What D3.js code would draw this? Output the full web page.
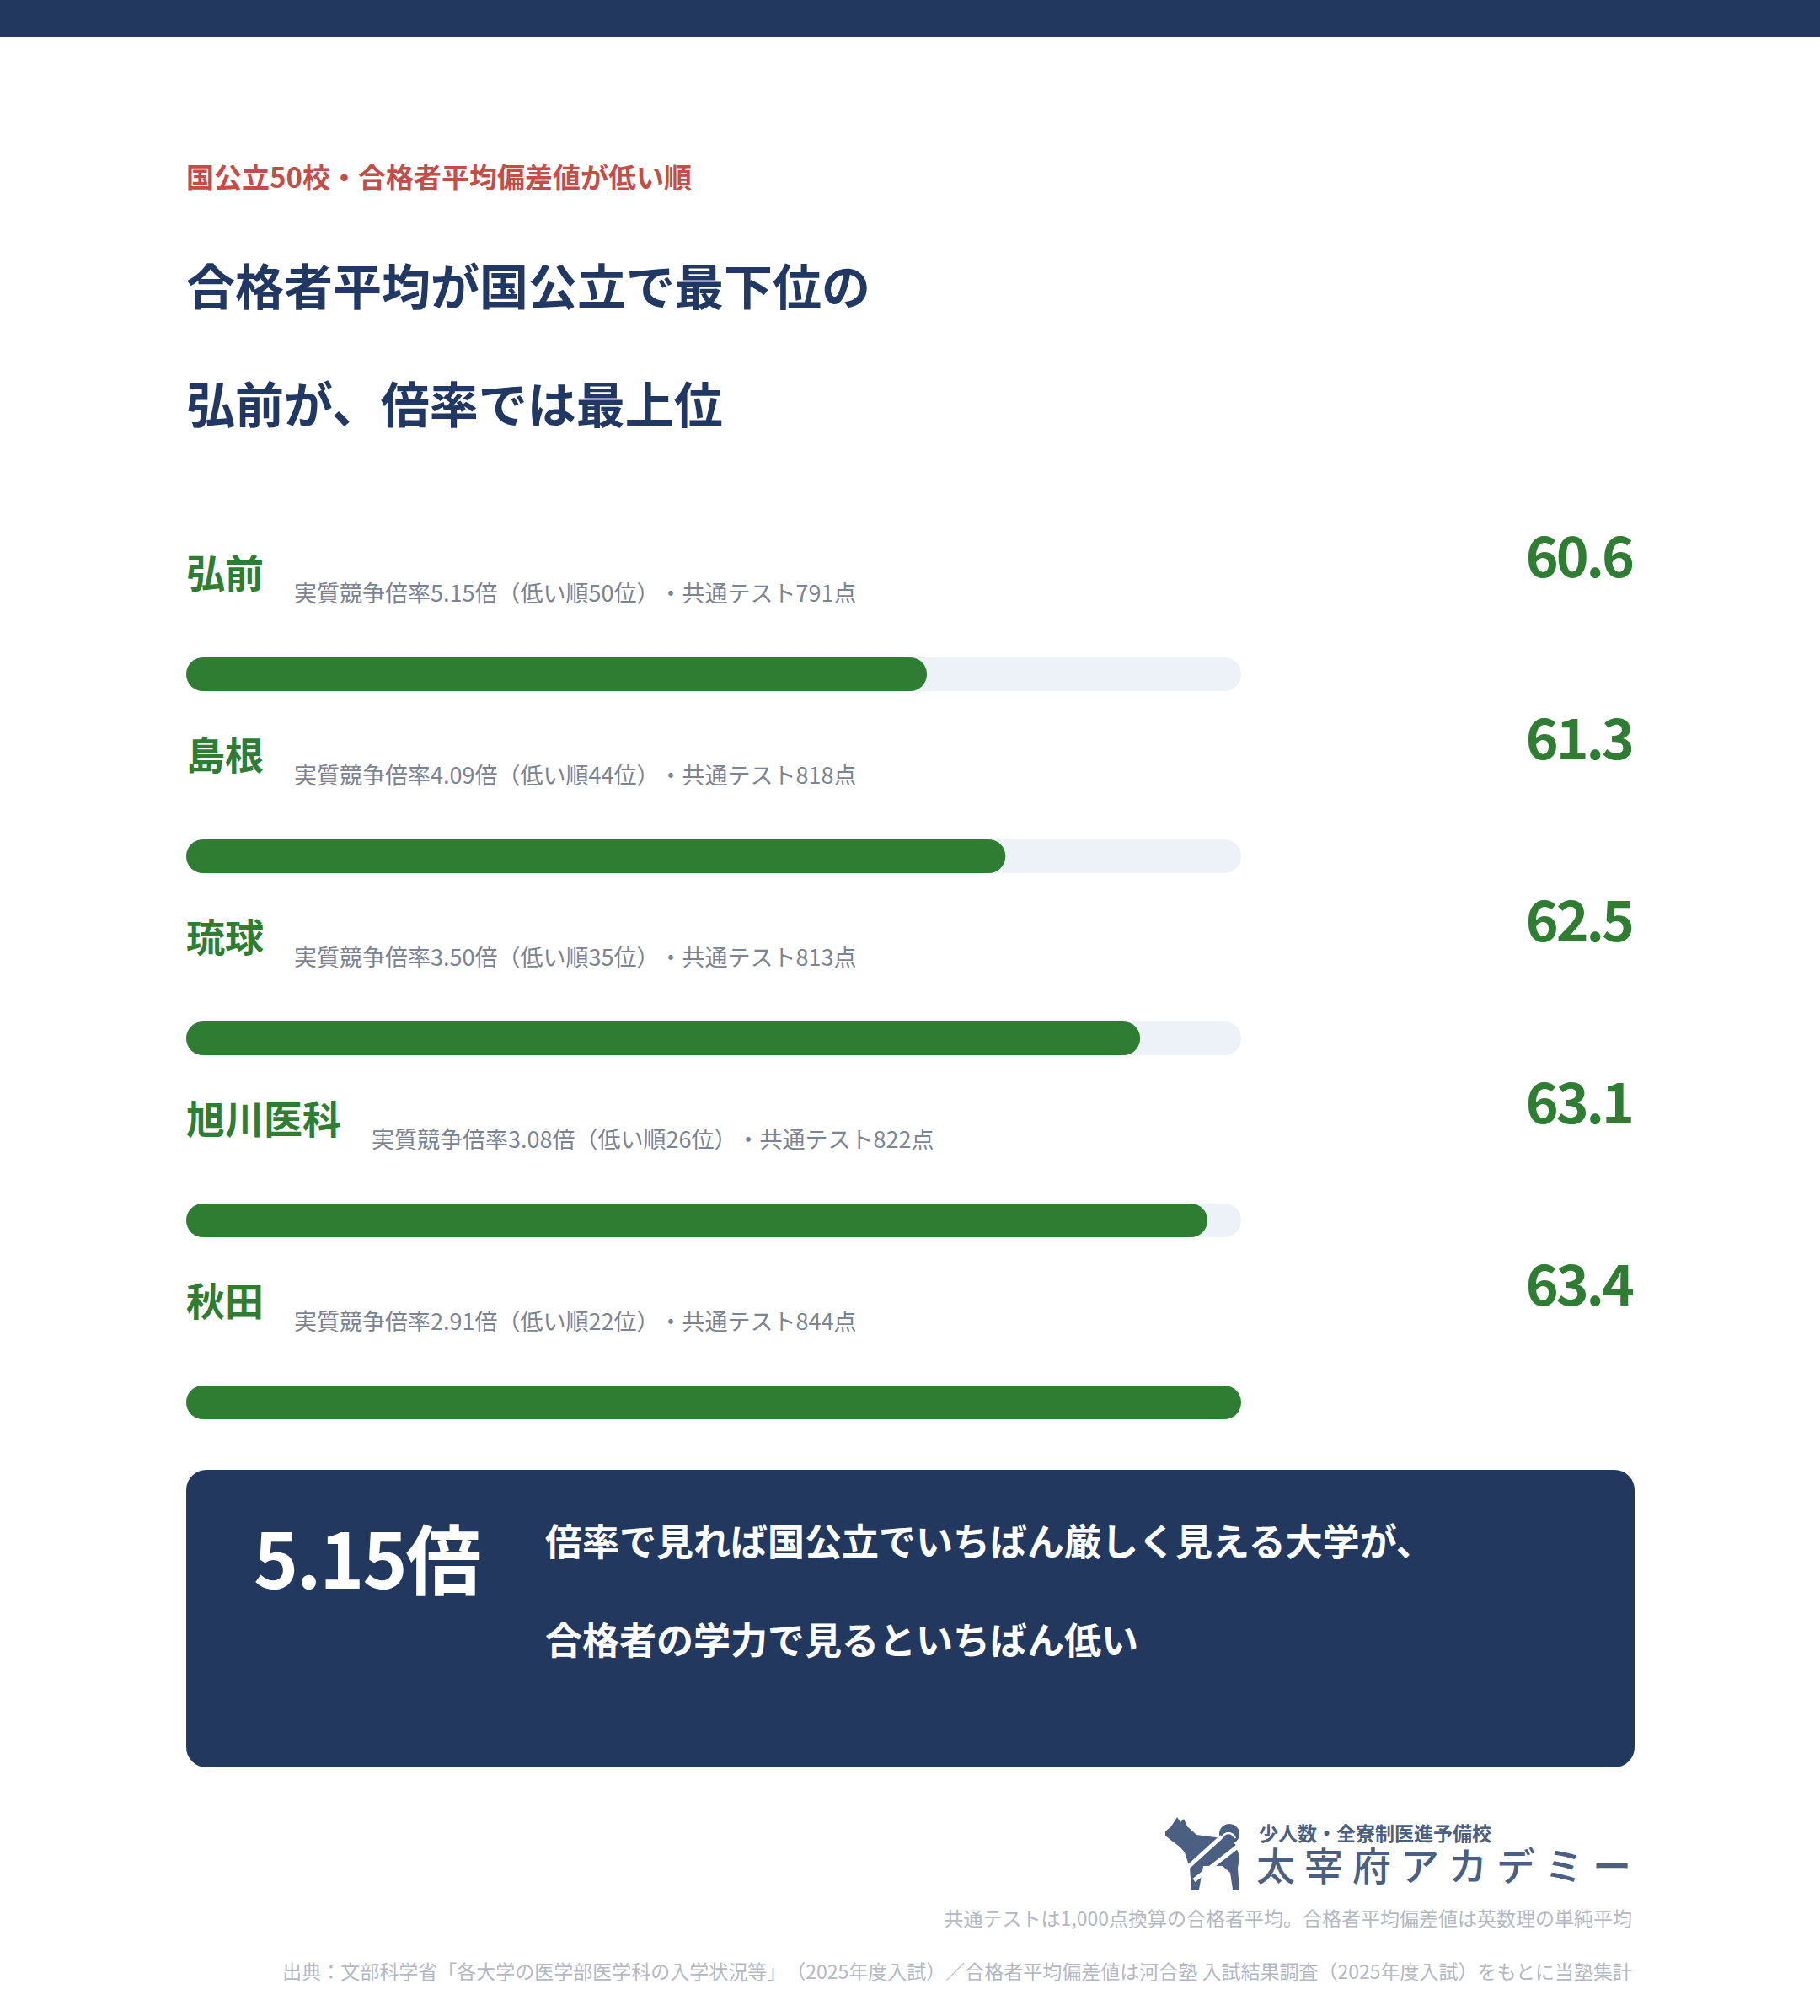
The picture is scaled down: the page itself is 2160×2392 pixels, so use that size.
<!DOCTYPE html>
<html>
<head>
<meta charset="utf-8">
<script src="https://cdn.jsdelivr.net/npm/d3@7"></script>
<style>
  html, body { margin: 0; padding: 0; background: #fff; }
  svg { display: block; font-family: "Noto Sans CJK JP", "Noto Sans", sans-serif; text-spacing-trim: space-all; }
</style>
</head>
<body>
<svg id="chart" width="2160" height="2392"></svg>
<script>
// data
var schools = ["弘前", "島根", "琉球", "旭川医科", "秋田"];
var hensachi = [60.6, 61.3, 62.5, 63.1, 63.4];
var ratios = ["5.15", "4.09", "3.50", "3.08", "2.91"];
var ranks = [50, 44, 35, 26, 22];
var scores = [791, 818, 813, 822, 844];
var xMin = 54;

var navy = "#22385f",
	green = "#2e7d32",
	track = "#edf1f8",
	gray = "#7c8392",
	light = "#b3b8c4",
	logoColor = "#4b5f82";

var svg = d3.select("#chart");

svg.append("rect").attr("x", 0).attr("y", 0).attr("width", 2160).attr("height", 44).attr("fill", navy);

svg.append("text")
	.attr("x", 221).attr("y", 223)
	.attr("font-size", 33).attr("font-weight", 700).attr("fill", "#c44d4a")
	.text("国公立50校・合格者平均偏差値が低い順");

var titleLines = ["合格者平均が国公立で最下位の", "弘前が、倍率では最上位"];
titleLines.forEach(function(t, i) {
	svg.append("text")
		.attr("x", 221).attr("y", 362 + i * 140)
		.attr("font-size", 58).attr("font-weight", 700).attr("fill", "#213864")
		.text(t);
});

var x = d3.scaleLinear().domain([xMin, d3.max(hensachi)]).range([221, 1473]);
var y = d3.scaleBand().domain(schools).range([640, 640 + 216 * schools.length]);

var rows = svg.append("g").attr("class", "rows")
	.selectAll("g")
	.data(schools)
	.join("g")
	.attr("transform", function(d) { return "translate(0," + y(d) + ")"; });

rows.append("rect")
	.attr("x", x.range()[0]).attr("y", 140)
	.attr("width", x.range()[1] - x.range()[0]).attr("height", 40)
	.attr("rx", 20).attr("fill", track);

rows.append("rect")
	.attr("x", x.range()[0]).attr("y", 140)
	.attr("width", function(d, i) { return x(hensachi[i]) - x.range()[0]; })
	.attr("height", 40)
	.attr("rx", 20).attr("fill", green);

var labels = rows.append("text")
	.attr("x", 221).attr("y", 57)
	.attr("font-size", 46).attr("font-weight", 700).attr("fill", green)
	.text(function(d) { return d; });

rows.append("text")
	.attr("x", function(d, i) { return 221 + labels.nodes()[i].getComputedTextLength() + 36; })
	.attr("y", 74)
	.attr("font-size", 27).attr("fill", gray)
	.text(function(d, i) {
		return "実質競争倍率" + ratios[i] + "倍（低い順" + ranks[i] + "位）・共通テスト" + scores[i] + "点";
	});

rows.append("text")
	.attr("x", 1937).attr("y", 45)
	.attr("text-anchor", "end")
	.attr("font-size", 66).attr("font-weight", 700).attr("fill", green)
	.attr("letter-spacing", -3)
	.text(function(d, i) { return d3.format(".1f")(hensachi[i]); });

// callout
var box = svg.append("g");
box.append("rect").attr("x", 221).attr("y", 1744).attr("width", 1719).attr("height", 353)
	.attr("rx", 24).attr("fill", navy);
box.append("text").attr("x", 301).attr("y", 1885)
	.attr("font-size", 90).attr("font-weight", 700).attr("fill", "#fff")
	.attr("letter-spacing", -2)
	.text(ratios[0] + "倍");
var calloutLines = ["倍率で見れば国公立でいちばん厳しく見える大学が、", "合格者の学力で見るといちばん低い"];
calloutLines.forEach(function(t, i) {
	box.append("text").attr("x", 647).attr("y", 1846 + i * 117)
		.attr("font-size", 44).attr("font-weight", 700).attr("fill", "#fff")
		.text(t);
});

// logo
var logo = svg.append("g").attr("transform", "translate(1370,2145)");
logo.append("path")
	.attr("d", "M13,28 L20,22 L27,11 L31,17 L35,13 L39,22 L50,32 L80,36 L96,43 L101,58 L99,72 L101,97 L93,97 L90,77 L81,69 L58,69 L53,97 L44,97 L42,71 L36,53 L31,47 L18,37 L13,33 Z")
	.attr("fill", logoColor);
logo.append("circle").attr("cx", 89).attr("cy", 31).attr("r", 12).attr("fill", logoColor);
logo.append("path").attr("d", "M80,36 C84,28 92,28 96,36").attr("fill", "none").attr("stroke", "#fff").attr("stroke-width", 2.5);
logo.append("line").attr("x1", 36).attr("y1", 74).attr("x2", 80).attr("y2", 34)
	.attr("stroke", "#fff").attr("stroke-width", 5);
logo.append("line").attr("x1", 47).attr("y1", 86).attr("x2", 100).attr("y2", 45)
	.attr("stroke", "#fff").attr("stroke-width", 5);

logo.append("text").attr("x", 124).attr("y", 39)
	.attr("font-size", 23).attr("font-weight", 700).attr("fill", logoColor)
	.text("少人数・全寮制医進予備校");
logo.append("text").attr("x", 121).attr("y", 86)
	.attr("font-size", 46).attr("font-weight", 500).attr("fill", logoColor)
	.attr("letter-spacing", 11)
	.text("太宰府アカデミー");

// footnotes
var notes = [
	"共通テストは1,000点換算の合格者平均。合格者平均偏差値は英数理の単純平均",
	"出典：文部科学省「各大学の医学部医学科の入学状況等」（2025年度入試）／合格者平均偏差値は河合塾 入試結果調査（2025年度入試）をもとに当塾集計"
];
notes.forEach(function(t, i) {
	svg.append("text").attr("x", 1937).attr("y", 2285 + i * 63)
		.attr("text-anchor", "end")
		.attr("font-size", 23).attr("fill", light)
		.text(t);
});
</script>
</body>
</html>
